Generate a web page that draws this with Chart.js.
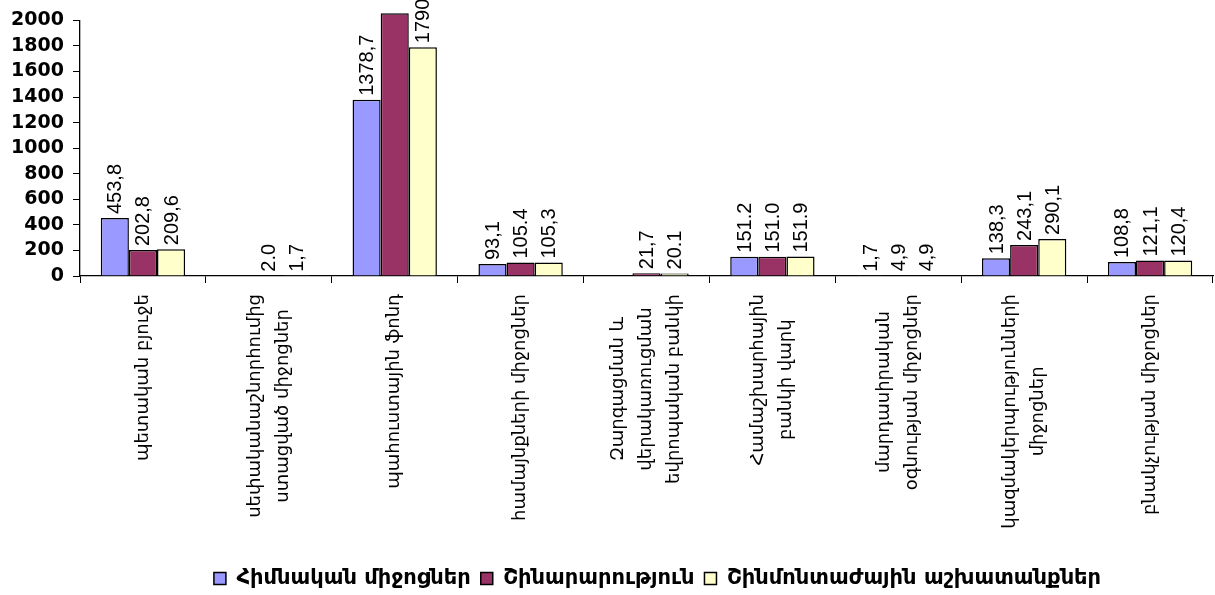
<!DOCTYPE html>
<html><head><meta charset="utf-8">
<script src="https://cdn.jsdelivr.net/npm/chart.js@4/dist/chart.umd.min.js"></script>
<style>html,body{margin:0;padding:0;background:#fff}</style>
</head><body>
<canvas id="c" width="1215" height="595"></canvas>
<script>
const categories = [
  ["պետական բյուջե"],
  ["սեփականաշնորհումից", "ստացված միջոցներ"],
  ["պահուստային ֆոնդ"],
  ["համայնքների միջոցներ"],
  ["Զարգացման և", "վերակառուցման", "եվրոպական բանկի"],
  ["Համաշխարհային", "բանկի վարկ"],
  ["մարդասիրական", "օգնության միջոցներ"],
  ["կազմակերպությունների", "միջոցներ"],
  ["բնակչության միջոցներ"]
];
const seriesNames = ["Հիմնական միջոցներ", "Շինարարություն", "Շինմոնտաժային աշխատանքներ"];
const fixedAssets  = [453.8, null, 1378.7, 93.1, null, 151.2, 1.7, 138.3, 108.8];
const construction = [202.8, 2.0, 2055.0, 105.4, 21.7, 151.0, 4.9, 243.1, 121.1];
const installation = [209.6, 1.7, 1790.6, 105.3, 20.1, 151.9, 4.9, 290.1, 120.4];
const fixedAssetsLabels  = ["453,8", "", "1378,7", "93,1", "", "151.2", "1,7", "138,3", "108,8"];
const constructionLabels = ["202,8", "2.0", "", "105.4", "21,7", "151.0", "4,9", "243,1", "121,1"];
const installationLabels = ["209,6", "1,7", "1790,6", "105,3", "20.1", "151.9", "4,9", "290,1", "120,4"];
const yMin = 0, yMax = 2000, yStep = 200;
const seriesColors = ["#9999FF", "#993366", "#FFFFCC"];

const valueLabelPlugin = {
  id: 'valueLabels',
  afterDatasetsDraw(chart) {
    const ctx = chart.ctx;
    chart.data.datasets.forEach((ds, di) => {
      const meta = chart.getDatasetMeta(di);
      meta.data.forEach((bar, i) => {
        const txt = ds.valueLabels[i];
        if (!txt || ds.data[i] == null) return;
        ctx.save();
        ctx.font = '20px "Liberation Sans", Arial, sans-serif';
        ctx.fillStyle = '#000';
        ctx.translate(bar.x, bar.y - 4);
        ctx.rotate(-Math.PI / 2);
        ctx.textAlign = 'left';
        ctx.textBaseline = 'middle';
        ctx.fillText(txt, 0, 1);
        ctx.restore();
      });
    });
  }
};

const catLabelPlugin = {
  id: 'catLabels',
  afterDraw(chart) {
    const ctx = chart.ctx;
    const xs = chart.scales.x;
    const top = xs.top + 18;
    const lh = 28;
    ctx.save();
    ctx.font = '18px "DejaVu Sans", sans-serif';
    ctx.fillStyle = '#000';
    categories.forEach((lines, i) => {
      const x = xs.getPixelForTick(i);
      let maxW = 0;
      lines.forEach(l => { maxW = Math.max(maxW, ctx.measureText(l).width); });
      const cy = top + maxW / 2;
      lines.forEach((l, j) => {
        const lx = x + (j - (lines.length - 1) / 2) * lh;
        ctx.save();
        ctx.translate(lx, cy);
        ctx.rotate(-Math.PI / 2);
        ctx.textAlign = 'center';
        ctx.textBaseline = 'middle';
        ctx.fillText(l, 0, 0);
        ctx.restore();
      });
    });
    ctx.restore();
  }
};

const legendShiftPlugin = {
  id: 'legendShift',
  afterLayout(chart) {
    const lg = chart.legend;
    if (lg) { lg.left += 46; lg.right += 46; lg.top += 4; lg.bottom += 4; }
  }
};

function makeDs(label, data, labels, color) {
  return {
    label: label, data: data, valueLabels: labels,
    backgroundColor: color, borderColor: '#000', borderWidth: 1.5,
    categoryPercentage: 0.67, barPercentage: 1.0, clip: false
  };
}

new Chart(document.getElementById('c'), {
  type: 'bar',
  data: {
    labels: categories,
    datasets: [
      makeDs(seriesNames[0], fixedAssets, fixedAssetsLabels, seriesColors[0]),
      makeDs(seriesNames[1], construction, constructionLabels, seriesColors[1]),
      makeDs(seriesNames[2], installation, installationLabels, seriesColors[2])
    ]
  },
  options: {
    responsive: false,
    devicePixelRatio: 1,
    animation: false,
    layout: { padding: { top: 20, left: 10, right: 2, bottom: 0 } },
    plugins: {
      tooltip: { enabled: false },
      legend: {
        position: 'bottom',
        labels: {
          color: '#000',
          boxWidth: 12, boxHeight: 12,
          padding: 10,
          font: { family: '"DejaVu Sans", sans-serif', size: 21, weight: 'bold' }
        }
      }
    },
    scales: {
      x: {
        grid: { drawOnChartArea: false, offset: true, tickLength: 7, color: '#000', lineWidth: 1 },
        border: { color: '#000', width: 1.3 },
        ticks: { display: false },
        afterFit(s) { s.height = 278; }
      },
      y: {
        min: yMin, max: yMax,
        grid: { drawOnChartArea: false, tickLength: 7, color: '#000', lineWidth: 1 },
        border: { color: '#000', width: 1.3 },
        ticks: {
          stepSize: yStep, autoSkip: false,
          color: '#000', padding: 9,
          callback: v => String(v),
          font: { family: '"DejaVu Sans", sans-serif', size: 19, weight: 'bold' }
        },
        afterFit(s) { s.width = 70; }
      }
    }
  },
  plugins: [valueLabelPlugin, catLabelPlugin, legendShiftPlugin]
});
</script>
</body></html>
